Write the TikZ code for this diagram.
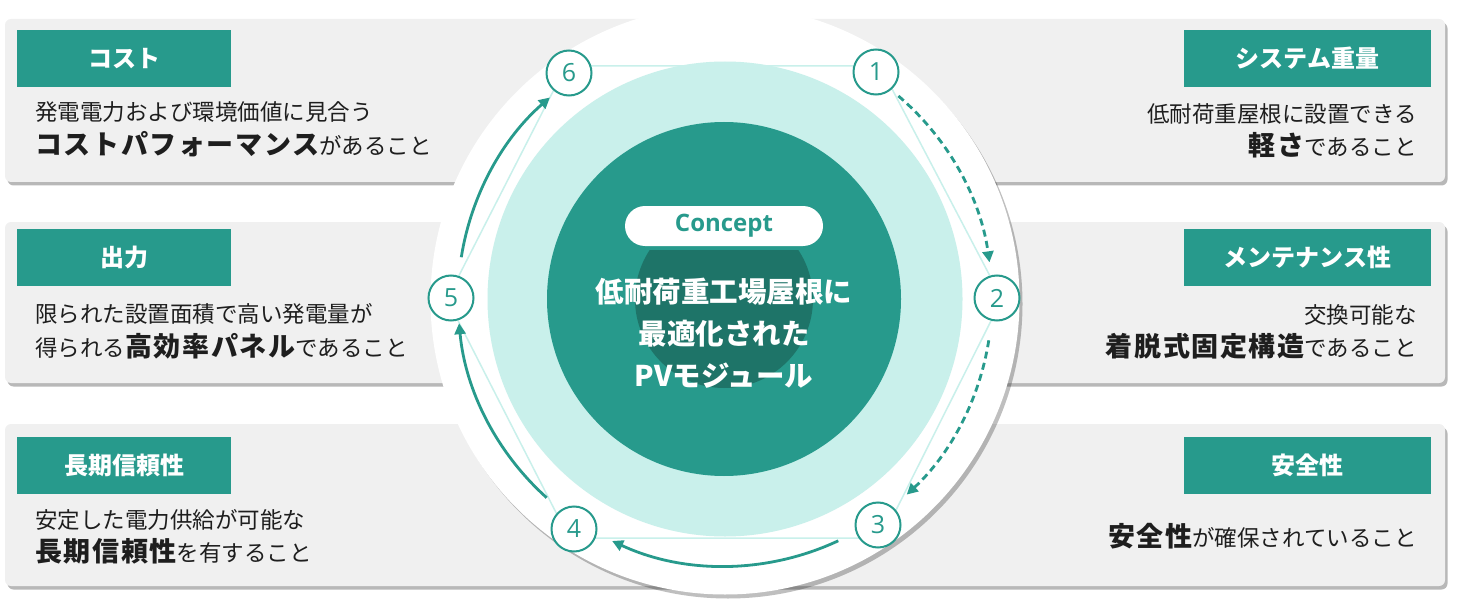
\documentclass[tikz,border=0pt]{standalone}
\usepackage{fontspec}
\setmainfont{Noto Sans CJK JP}
\newfontfamily\latinf{Open Sans}
\usetikzlibrary{shadows,arrows.meta}
\definecolor{teal1}{HTML}{279A8C}
\definecolor{lteal}{HTML}{C9F0EB}
\definecolor{dteal}{HTML}{1E7468}
\definecolor{panelc}{HTML}{F0F0F0}
\definecolor{txt}{HTML}{1E1E1E}
\newcommand\emphb[1]{{\fontsize{27}{30}\selectfont\bfseries\addfontfeature{LetterSpace=6}#1}}
\tikzset{
  panelbox/.style={fill=panelc, rounded corners=6, minimum width=1440, minimum height=163, inner sep=0,
    drop shadow={shadow xshift=2.5pt, shadow yshift=-3.5pt, opacity=0.28, fill=black}},
  headbox/.style={fill=teal1, text=white, font=\fontsize{24}{28}\selectfont\bfseries,
    minimum width=214, minimum height=57, inner sep=0},
  rheadbox/.style={headbox, minimum width=247},
  body/.style={text=txt, font=\fontsize{22.5}{26}\selectfont, inner sep=0},
  numc/.style={circle, draw=teal1, line width=2pt, fill=white, minimum size=45, inner sep=0,
    text=teal1, font=\latinf\fontsize{25}{25}\selectfont},
  hexline/.style={draw=lteal, line width=1.5pt},
  cyc/.style={draw=teal1, line width=2.8pt, -{Triangle[length=11pt,width=11pt]}},
  cycd/.style={cyc, dash pattern=on 7pt off 4.5pt},
}
\begin{document}
\begin{tikzpicture}[x=1pt, y=-1pt]
\useasboundingbox (0,0) rectangle (1457,607);
% panels
\node[panelbox] (p1) at (725,100.5) {};
\node[panelbox, minimum height=161] (p2) at (725,302.5) {};
\node[panelbox, minimum height=162] (p3) at (725,505) {};
% headers
\node[headbox] (h1) at (124,58.5) {コスト};
\node[headbox] (h3) at (124,257) {出力};
\node[headbox] (h5) at (124,465) {長期信頼性};
\node[rheadbox] (h2) at (1307.5,58.5) {システム重量};
\node[rheadbox] (h4) at (1307.5,257) {メンテナンス性};
\node[rheadbox] (h6) at (1307.5,465) {安全性};
% body texts left
\node[body, anchor=base west] (l1a) at (35,121) {発電電力および環境価値に見合う};
\node[body, anchor=base west] (l1b) at (35,155) {\emphb{コストパフォーマンス}があること};
\node[body, anchor=base west] (l2a) at (35,322) {限られた設置面積で高い発電量が};
\node[body, anchor=base west] (l2b) at (35,356) {得られる\emphb{高効率パネル}であること};
\node[body, anchor=base west] (l3a) at (35,528) {安定した電力供給が可能な};
\node[body, anchor=base west] (l3b) at (35,561) {\emphb{長期信頼性}を有すること};
% body texts right
\node[body, anchor=base east] (r1a) at (1417,123) {低耐荷重屋根に設置できる};
\node[body, anchor=base east] (r1b) at (1417,156) {\emphb{軽さ}であること};
\node[body, anchor=base east] (r2a) at (1417,323) {交換可能な};
\node[body, anchor=base east] (r2b) at (1417,356) {\emphb{着脱式固定構造}であること};
\node[body, anchor=base east] (r3a) at (1417,546) {\emphb{安全性}が確保されていること};
% big circle
\coordinate (cc) at (725,299);
\node[circle, fill=white, minimum size=589, inner sep=0,
  drop shadow={shadow xshift=3pt, shadow yshift=-4pt, opacity=0.25, fill=black}] (big) at (725,300) {};
% hexagon
\coordinate (v1) at (880,66);
\coordinate (v2) at (1002,299);
\coordinate (v3) at (882,538);
\coordinate (v4) at (569,538);
\coordinate (v5) at (447,299);
\coordinate (v6) at (566,66);
\draw[hexline] (v1) -- (v2) -- (v3) -- (v4) -- (v5) -- (v6) -- cycle;
% concentric circles
\node[circle, fill=lteal, minimum size=475, inner sep=0] (lc) at (cc) {};
\node[circle, fill=teal1, minimum size=354, inner sep=0] (dc) at (724,299) {};
\begin{scope}
  \clip (600,250) rectangle (850,420);
  \node[circle, fill=dteal, minimum size=178, inner sep=0] (ic) at (724,299) {};
\end{scope}
\node[fill=white, rounded corners=20, minimum width=198, minimum height=40, inner sep=0,
  text=teal1, font=\latinf\bfseries\fontsize{24}{26}\selectfont] (concept) at (724,226) {Concept};
\node[text=white, align=center, font=\fontsize{28.5}{42}\selectfont\bfseries] (ctext) at (724,333)
  {低耐荷重工場屋根に\\最適化された\\PVモジュール};
% number circles
\node[numc] (n1) at (876,72) {1};
\node[numc] (n2) at (997,298) {2};
\node[numc] (n3) at (878,525) {3};
\node[numc] (n4) at (574,529) {4};
\node[numc] (n5) at (451,298) {5};
\node[numc] (n6) at (569,73) {6};
% cycle arrows (arcs around the centre cc, between the number circles)
\draw[cycd] ([shift={(-49.5:267)}]cc) arc[start angle=-49.5, end angle=-7.9, radius=267];
\draw[cycd] ([shift={(8.9:267)}]cc) arc[start angle=8.9, end angle=47.1, radius=267];
\draw[cyc] ([shift={(64.9:267)}]cc) arc[start angle=64.9, end angle=115, radius=267];
\draw[cyc] ([shift={(131.9:267)}]cc) arc[start angle=131.9, end angle=174.8, radius=267];
\draw[cyc] ([shift={(189:267)}]cc) arc[start angle=189, end angle=229, radius=267];
\end{tikzpicture}
\end{document}
